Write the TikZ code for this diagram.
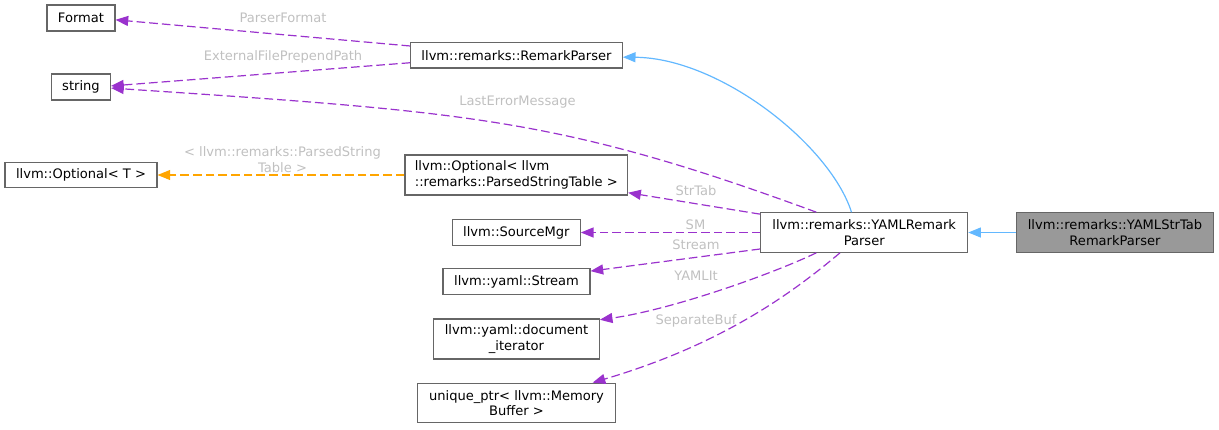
\documentclass[tikz,border=0pt]{standalone}
\usepackage{fontspec}
\setmainfont{DejaVu Sans}
\usetikzlibrary{arrows.meta}
\definecolor{membcol}{HTML}{9A32CD}
\definecolor{tplcol}{HTML}{FFA500}
\definecolor{inhcol}{HTML}{63B8FF}
\definecolor{lblcol}{HTML}{C0C0C0}
\definecolor{boxcol}{HTML}{666666}
\definecolor{hlcol}{HTML}{999999}
\begin{document}
\begin{tikzpicture}[x=0.75pt,y=-0.75pt,font=\fontsize{9.8}{11.75}\selectfont,
  cls/.style={draw=boxcol,line width=0.8pt,fill=white,inner sep=0pt,align=center},
  usage/.style={draw=membcol,fill=none,line width=0.9pt,dash pattern=on 6.5pt off 3pt,-{Triangle[length=9.5pt,width=7.5pt,fill=membcol]}},
  templ/.style={draw=tplcol,fill=none,line width=0.9pt,dash pattern=on 6.5pt off 3pt,-{Triangle[length=9.5pt,width=7.5pt,fill=tplcol]}},
  inherit/.style={draw=inhcol,line width=0.9pt,-{Triangle[length=9.5pt,width=7.5pt,fill=inhcol]}},
  lab/.style={text=lblcol,inner sep=0pt,align=center}]
\useasboundingbox (0,0) rectangle (1219,429);
\node[cls,minimum width=51pt,minimum height=19.5pt] (fmt) at (81,18) {Format};
\node[cls,minimum width=44.25pt,minimum height=19.5pt] (str) at (81,87) {string};
\node[cls,minimum width=114pt,minimum height=19pt] (optT) at (81,175) {llvm::Optional< T >};
\node[cls,minimum width=158.7pt,minimum height=19pt] (rp) at (516.5,55.3) {llvm::remarks::RemarkParser};
\node[cls,minimum width=167pt,minimum height=30pt,align=left] (optPST) at (516.3,175) {llvm::Optional< llvm\\::remarks::ParsedStringTable >};
\node[cls,minimum width=96pt,minimum height=19.2pt] (sm) at (516.3,232.5) {llvm::SourceMgr};
\node[cls,minimum width=110.25pt,minimum height=19.2pt] (ys) at (516.5,281.5) {llvm::yaml::Stream};
\node[cls,minimum width=124.2pt,minimum height=30pt] (di) at (516.5,339) {llvm::yaml::document\\\_iterator};
\node[cls,minimum width=148.2pt,minimum height=29.8pt] (up) at (516.5,403) {unique\_ptr< llvm::Memory\\Buffer >};
\node[cls,minimum width=155.25pt,minimum height=29.7pt] (yrp) at (864.2,232.5) {llvm::remarks::YAMLRemark\\Parser};
\node[cls,fill=hlcol,minimum width=147.5pt,minimum height=29.7pt] (stp) at (1115,232.5) {llvm::remarks::YAMLStrTab\\RemarkParser};
\draw[usage] (rp.175) -- (fmt.-3);
\draw[usage] (rp.184) -- (str.2);
\draw[usage] (yrp.157) .. controls (560,118) and (470,112) .. (str.-2);
\draw[inherit] (yrp.122) .. controls (830,145) and (720,58) .. (rp.-1);
\draw[templ] (optPST.west) -- (optT.east);
\draw[usage] (yrp.170) -- (optPST.-9);
\draw[usage] (yrp.west) -- (sm.east);
\draw[usage] (yrp.189) -- (ys.8);
\draw[usage] (yrp.203) .. controls (770,275) and (670,310) .. (di.13);
\draw[usage] (yrp.220) .. controls (790,295) and (720,345) .. (up.15);
\draw[inherit] (stp.west) -- (yrp.east);
\node[lab] (lfmt) at (283,18.3) {ParserFormat};
\node[lab] (lext) at (283,57.3) {ExternalFilePrependPath};
\node[lab] (lerr) at (517.5,101.7) {LastErrorMessage};
\node[lab] (ltpl) at (282.5,159.3) {< llvm::remarks::ParsedString\\Table >};
\node[lab] (lstt) at (696,190.7) {StrTab};
\node[lab] (lsm) at (695.5,225) {SM};
\node[lab] (lstr) at (696,244.3) {Stream};
\node[lab] (lit) at (696,276) {YAMLIt};
\node[lab] (lbuf) at (696,321) {SeparateBuf};
\end{tikzpicture}
\end{document}
